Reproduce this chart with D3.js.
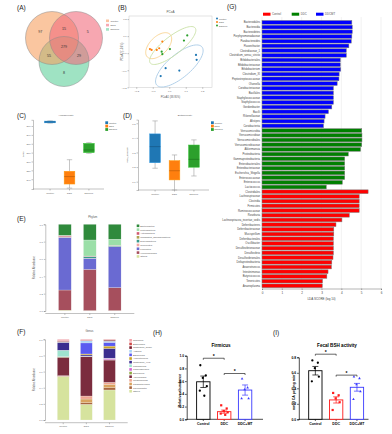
<!DOCTYPE html>
<html><head><meta charset="utf-8">
<script src="https://cdn.jsdelivr.net/npm/d3@7/dist/d3.min.js"></script>
<style>html,body{margin:0;padding:0;background:#fff;}svg{display:block;}</style>
</head><body>
<svg id="chart" width="392" height="434"></svg>
<script>
// ================= DATA =================
const groups = ["Control","DDC","DDCMT"];
const groupsMT = ["Control","DDC","DDC+MT"];

// (A) Venn diagram
const vennKeys = ["100","010","001","110","101","011","111"];
const vennCounts = [97,5,8,15,55,29,279];

// (B) PCoA
const pcoaGroup = ["DDC","DDC","DDC","DDC","DDC","DDCMT","DDCMT","DDCMT","DDCMT","DDCMT","Control","Control","Control","Control","Control"];
const pcoaX = [-0.117,-0.107,-0.076,-0.042,-0.061, 0.109,0.089,0.004,-0.046,-0.042, 0.162,0.166,0.061,-0.022,-0.052];
const pcoaY = [0.024,0.019,0.019,0.068,0.029, 0.104,0.074,0.024,0.009,-0.006, -0.010,-0.039,-0.102,-0.088,-0.134];
const pcoaTicks = [-0.2,-0.1,0,0.1,0.2];
const ellCx = [0.061,-0.064,0.021];
const ellCy = [-0.075,0.044,0.045];
const ellMajX = [0.137,0.0686,0.136];
const ellMajY = [0.112,0.0666,0.103];
const ellRatio = [0.39,0.56,0.32];

// (C) Alpha diversity box stats
const alphaMin = [303.3,230,269.2];
const alphaQ1  = [303.6,234.6,270];
const alphaMed = [304.6,243,273];
const alphaQ3  = [305.5,249,280.4];
const alphaMax = [305.8,262,281.2];
const alphaTicks = [240,250,260,270,280,290,300];

// (D) Beta diversity box stats
const betaMin = [0.192,0.043,0.139];
const betaQ1  = [0.230,0.112,0.199];
const betaMed = [0.340,0.175,0.253];
const betaQ3  = [0.427,0.244,0.351];
const betaMax = [0.516,0.283,0.386];
const betaTicks = [0.1,0.2,0.3,0.4,0.5];

// (E) Phylum (stack order bottom -> top)
const phylumNames = ["Others","Verrucomicrobia","Firmicutes","Tenericutes","Deferribacteres","Candidatus_Saccharibacteria","Actinobacteria","Proteobacteria","Bacteroidetes"];
const phylumControl = [0.010,0.232,0.608,0.003,0.002,0.002,0.012,0.005,0.126];
const phylumDDC     = [0.005,0.475,0.127,0.002,0.020,0.002,0.003,0.185,0.181];
const phylumDDCMT   = [0.005,0.265,0.472,0.002,0.010,0.002,0.002,0.070,0.172];
const fracTicks = [0,0.2,0.4,0.6,0.8,1.0];

// (F) Genus (stack order bottom -> top)
const genusNames = ["Others","Flavonifractor","Parabacteroides","Intestinimonas","Akkermansia","Barnesiella","Lachnospiracea","Lactobacillus","Clostridium_XlVa","Anaerotruncus","Escherichia","Alistipes","Clostridium_sensu","Bacteroides","Roseburia"];
const genusControl = [0.537,0.004,0.004,0.004,0.228,0.005,0.003,0.080,0.097,0.003,0.002,0.003,0.005,0.010,0.015];
const genusDDC     = [0.194,0.020,0.046,0.037,0.488,0.003,0.002,0.002,0.014,0.012,0.137,0.025,0.004,0.006,0.010];
const genusDDCMT   = [0.372,0.028,0.042,0.025,0.276,0.004,0.017,0.003,0.120,0.029,0.046,0.015,0.013,0.006,0.004];

// (G) LEfSe LDA scores
const ldaDDCMTNames = ["Bacteroidales","Bacteroidia","Bacteroidetes","Porphyromonadaceae","Parabacteroides","Flavonifractor","Clostridiaceae_1","Clostridium_sensu_stricto","Bifidobacteriales","Bifidobacteriaceae","Bifidobacterium","Clostridium_XI","Peptostreptococcaceae","Olsenella","Coriobacteriaceae","Bacillales","Staphylococcaceae","Staphylococcus","Gordonibacter","Bacilli","Rikenellaceae","Alistipes","Coriobacteriia"];
const ldaDDCMTScores = [4.53,4.55,4.55,4.53,4.50,4.38,4.25,4.25,3.95,3.95,3.97,3.89,3.88,3.79,3.60,3.60,3.60,3.60,3.52,3.35,3.18,3.13,3.10];
const ldaDDCNames = ["Verrucomicrobia","Verrucomicrobiae","Verrucomicrobiales","Verrucomicrobiaceae","Akkermansia","Proteobacteria","Gammaproteobacteria","Enterobacteriales","Enterobacteriaceae","Escherichia_Shigella","Enterococcaceae","Enterococcus","Lactococcus"];
const ldaDDCScores = [5.03,5.04,5.04,5.03,4.97,4.35,4.17,4.17,4.17,4.17,4.17,4.05,3.24];
const ldaControlNames = ["Clostridiales","Lachnospiraceae","Clostridia","Firmicutes","Ruminococcaceae","Roseburia","Lachnospiracea_incertae_sedis","Deferribacteres","Deferribacteraceae","Mucispirillum","Deferribacterales","Oscillibacter","Desulfovibrionaceae","Desulfovibrio","Desulfovibrionales","Deltaproteobacteria","Anaerotruncus","Intestinimonas","Butyricicoccus","Tenericutes","Anaeroplasma"];
const ldaControlScores = [5.35,4.90,4.90,4.90,4.90,4.40,4.03,3.73,3.62,3.62,3.60,3.60,3.60,3.60,3.58,3.52,3.50,3.33,3.27,3.05,3.04];
const ldaTicks = [0,1,2,3,4,5,6];

// (H) Firmicus
const firmMean = [0.59,0.12,0.46];
const firmSem  = [0.09,0.025,0.08];
const firmControl = [0.85,0.69,0.65,0.52,0.45,0.37];
const firmDDC     = [0.22,0.17,0.13,0.11,0.09,0.07];
const firmDDCMT   = [0.64,0.50,0.47,0.33,0.33];
const firmSig = [0.96,0.72];
const firmTicks = [0,0.2,0.4,0.6,0.8,1.0];

// (I) Fecal BSH activity
const bshMean = [0.627,0.25,0.413];
const bshSem  = [0.055,0.04,0.05];
const bshControl = [0.76,0.73,0.66,0.55,0.49];
const bshDDC     = [0.34,0.31,0.27,0.22,0.12];
const bshDDCMT   = [0.55,0.53,0.45,0.36,0.26];
const bshSig = [0.84,0.57];
const bshTicks = [0,0.2,0.4,0.6,0.8];

// ================= DRAW =================
const F = '"Liberation Sans", Arial, Helvetica, sans-serif';
const svg = d3.select("#chart");
svg.append("rect").attr("width",392).attr("height",434).attr("fill","#fff");

function T(g,x,y,s,fs,o={}){
  const t = g.append("text").attr("x",x).attr("y",y).text(s)
    .attr("font-size",fs).attr("font-family",F)
    .attr("fill",o.fill||"#333").attr("text-anchor",o.anchor||"start")
    .attr("font-weight",o.bold?"bold":"normal");
  if(o.rot) t.attr("transform",`rotate(${o.rot},${x},${y})`);
  return t;
}
function styleAxis(g,fs,color,sw,bold){
  g.selectAll("text").attr("font-size",fs).attr("font-family",F).attr("fill",color)
    .attr("font-weight",bold?"bold":"normal");
  g.selectAll("line,path").attr("stroke",color).attr("stroke-width",sw);
}

// Panel letters
[["(A)",17,9.5],["(B)",118,9.5],["(G)",227,9],["(C)",17,117.5],["(D)",123,117.5],["(E)",17,220.5],["(F)",17,333.5],["(H)",153,334.5],["(I)",273,334.5]]
  .forEach(([s,x,y])=>T(svg,x,y,s,6.5,{fill:"#222"}));

// ---------- (A) Venn ----------
(function(){
  const circ = [{cx:52,cy:38,r:26.5},{cx:76,cy:38,r:26.5},{cx:64,cy:61.5,r:25}];
  const cols = ["#f7a060","#f26d7d","#5fd19b"];
  const legCols = ["#fbc3a0","#f8a8b2","#a3e3c4"];
  [2,0,1].forEach(i=>{const c=circ[i]; svg.append("circle").attr("cx",c.cx).attr("cy",c.cy).attr("r",c.r)
      .attr("fill",cols[i]).attr("fill-opacity",0.6);});
  circ.forEach((c,i)=>svg.append("circle").attr("cx",c.cx).attr("cy",c.cy).attr("r",c.r)
      .attr("fill","none").attr("stroke","#8a8a8a").attr("stroke-width",0.5));
  const acc = {};
  for(let x=20;x<=105;x+=0.5) for(let y=8;y<=90;y+=0.5){
    const k = circ.map(c=>((x-c.cx)**2+(y-c.cy)**2<=c.r*c.r)?"1":"0").join("");
    if(k==="000") continue;
    (acc[k]=acc[k]||[0,0,0]); acc[k][0]+=x; acc[k][1]+=y; acc[k][2]++;
  }
  vennKeys.forEach((k,i)=>{
    const a = acc[k];
    T(svg,a[0]/a[2],a[1]/a[2]+1,String(vennCounts[i]),3.6,{anchor:"middle",fill:"#333"});
  });
  groups.forEach((g,i)=>{
    svg.append("rect").attr("x",106).attr("y",19.5+i*4.3).attr("width",3).attr("height",2.6).attr("fill",legCols[i]);
    T(svg,110.5,21.7+i*4.3,g,2.4,{fill:"#555"});
  });
})();

// ---------- (B) PCoA ----------
(function(){
  const gcol = {"Control":"#1f77b4","DDC":"#ff7f0e","DDCMT":"#2ca02c"};
  const ellCol = ["#a9cbe6","#f8d38e","#c9e1a6"];
  const x = d3.scaleLinear().domain([-0.244,0.259]).range([129,212]);
  const y = d3.scaleLinear().domain([-0.2,0.218]).range([87.3,16]);
  const g = svg.append("g");
  g.append("rect").attr("x",129).attr("y",16).attr("width",83).attr("height",71.3)
    .attr("fill","#fff").attr("stroke","#c8c8c8").attr("stroke-width",0.5);
  const ax = g.append("g").attr("transform","translate(0,87.3)")
    .call(d3.axisBottom(x).tickValues(pcoaTicks).tickSize(1.5).tickPadding(1).tickFormat(d3.format(".1f")));
  styleAxis(ax,2.4,"#666",0.4); ax.select(".domain").remove();
  const ay = g.append("g").attr("transform","translate(129,0)")
    .call(d3.axisLeft(y).tickValues(pcoaTicks).tickSize(1.5).tickPadding(1).tickFormat(d3.format(".1f")));
  styleAxis(ay,2.4,"#666",0.4); ay.select(".domain").remove();
  T(g,170.5,97.5,"PCoA1 (38.95%)",2.6,{anchor:"middle",fill:"#555"});
  T(g,123.5,51.6,"PCoA2 (15.6%)",2.6,{anchor:"middle",fill:"#555",rot:-90});
  T(g,170.5,12.5,"PCoA",3,{anchor:"middle",fill:"#555"});
  groups.forEach((gn,i)=>{
    const c = [x(ellCx[i]),y(ellCy[i])];
    const m = [x(ellCx[i]+ellMajX[i]),y(ellCy[i]+ellMajY[i])];
    const a = [m[0]-c[0],m[1]-c[1]];
    const b = [-a[1]*ellRatio[i],a[0]*ellRatio[i]];
    const pts = d3.range(0,72).map(k=>{const t=k/72*2*Math.PI;
      return [c[0]+Math.cos(t)*a[0]+Math.sin(t)*b[0], c[1]+Math.cos(t)*a[1]+Math.sin(t)*b[1]];});
    g.append("path").attr("d",d3.line().curve(d3.curveLinearClosed)(pts))
      .attr("fill","none").attr("stroke",ellCol[i]).attr("stroke-width",0.9);
  });
  pcoaX.forEach((v,i)=>g.append("circle").attr("cx",x(v)).attr("cy",y(pcoaY[i])).attr("r",1.1)
      .attr("fill",gcol[pcoaGroup[i]]));
  groups.forEach((gn,i)=>{
    g.append("circle").attr("cx",217).attr("cy",18.6+i*3.5).attr("r",1).attr("fill",gcol[gn]);
    T(g,219,19.5+i*3.5,gn,2.3,{fill:"#555"});
  });
})();

// ---------- box plots (C) & (D) ----------
function boxPanel(x0,x1,yDom,yR,ticks,fmt,mins,q1,med,q3,maxs,title,titleX,ylab,ylabX,legX){
  const cols = ["#1f77b4","#ff7f0e","#2ca02c"];
  const g = svg.append("g");
  const x = d3.scaleBand().domain(groups).range([x0,x1]).padding(0.45);
  const y = d3.scaleLinear().domain(yDom).range(yR);
  const ay = g.append("g").attr("transform",`translate(${x0-3},0)`)
    .call(d3.axisLeft(y).tickValues(ticks).tickSize(1.5).tickPadding(1).tickFormat(fmt));
  styleAxis(ay,2.4,"#666",0.4);
  const ax = g.append("g").attr("transform",`translate(0,${yR[0]})`)
    .call(d3.axisBottom(x).tickSize(1.5).tickPadding(2));
  styleAxis(ax,2.4,"#666",0.4);
  ax.select(".domain").attr("d",`M${x0-3},0H${x1+1}`);
  groups.forEach((gn,i)=>{
    const cx = x(gn)+x.bandwidth()/2, bw = x.bandwidth();
    const wc = "#a0a0a0";
    g.append("line").attr("x1",cx).attr("x2",cx).attr("y1",y(maxs[i])).attr("y2",y(q3[i])).attr("stroke",wc).attr("stroke-width",0.6);
    g.append("line").attr("x1",cx).attr("x2",cx).attr("y1",y(q1[i])).attr("y2",y(mins[i])).attr("stroke",wc).attr("stroke-width",0.6);
    [maxs[i],mins[i]].forEach(v=>g.append("line").attr("x1",cx-bw*0.25).attr("x2",cx+bw*0.25)
      .attr("y1",y(v)).attr("y2",y(v)).attr("stroke",wc).attr("stroke-width",0.6));
    g.append("rect").attr("x",x(gn)).attr("width",bw).attr("y",y(q3[i])).attr("height",Math.max(0.8,y(q1[i])-y(q3[i])))
      .attr("fill",cols[i]).attr("stroke",d3.color(cols[i]).brighter(0.6)).attr("stroke-width",0.5);
    g.append("line").attr("x1",x(gn)).attr("x2",x(gn)+bw).attr("y1",y(med[i])).attr("y2",y(med[i]))
      .attr("stroke",d3.color(cols[i]).darker(1)).attr("stroke-width",0.6);
  });
  T(g,titleX,115.5,title,2.5,{anchor:"middle",fill:"#555"});
  T(g,ylabX,(yR[0]+yR[1])/2,ylab,2.5,{anchor:"middle",fill:"#555",rot:-90});
  groups.forEach((gn,i)=>{
    g.append("rect").attr("x",legX).attr("y",121.3+i*3.4).attr("width",2.8).attr("height",2.8).attr("fill",cols[i]);
    T(g,legX+3.6,123.5+i*3.4,gn,2.3,{fill:"#555"});
  });
}
boxPanel(36,103,[229,307],[189,119.8],alphaTicks,d3.format("d"),alphaMin,alphaQ1,alphaMed,alphaQ3,alphaMax,"Alphadiversity",66,"Sobs",24,105.3);
boxPanel(141,208,[0.043,0.525],[190,119.6],betaTicks,d3.format(".1f"),betaMin,betaQ1,betaMed,betaQ3,betaMax,"Betadiversity",185,"beta_diversity",128,211);

// ---------- stacked bars (E) & (F) ----------
function stackPanel(names,rowsVals,colors,x0,x1,y0,y1,axisY,title,titleY,legX,legY0,legStep,legOrder){
  const g = svg.append("g");
  const rows = groups.map((gn,i)=>{const o={group:gn}; names.forEach((n,j)=>o[n]=rowsVals[i][j]); return o;});
  const series = d3.stack().keys(names)(rows);
  const x = d3.scaleBand().domain(groups).range([x0,x1]).padding(0.49);
  const y = d3.scaleLinear().domain([0,1]).range([y0,y1]);
  const cmap = {}; names.forEach((n,j)=>cmap[n]=colors[j]);
  series.forEach(s=>{
    g.selectAll(null).data(s).enter().append("rect")
      .attr("x",d=>x(d.data.group)).attr("width",x.bandwidth())
      .attr("y",d=>y(d[1])).attr("height",d=>Math.max(0,y(d[0])-y(d[1])))
      .attr("fill",cmap[s.key]).attr("stroke","#f2f2f2").attr("stroke-width",0.25);
  });
  const ay = g.append("g").attr("transform",`translate(${x0-1},0)`)
    .call(d3.axisLeft(y).tickValues(fracTicks).tickSize(1.5).tickPadding(1).tickFormat(d3.format(".1f")));
  styleAxis(ay,2.4,"#666",0.4);
  const ax = g.append("g").attr("transform",`translate(0,${axisY})`)
    .call(d3.axisBottom(x).tickSize(1.5).tickPadding(1.5));
  styleAxis(ax,2.4,"#666",0.4);
  ax.select(".domain").attr("d",`M${x0-1},0H${x1+1}`);
  T(g,(x0+x1)/2+3,titleY,title,2.7,{anchor:"middle",fill:"#555"});
  T(g,35,(y0+y1)/2,"Relative Abundance",2.6,{anchor:"middle",fill:"#555",rot:-90});
  legOrder.forEach((n,i)=>{
    g.append("rect").attr("x",legX).attr("y",legY0+i*legStep).attr("width",2.6).attr("height",2.6).attr("fill",cmap[n]);
    T(g,legX+3.6,legY0+i*legStep+2.2,n,2.3,{fill:"#555"});
  });
}
const phylumColors = ["#d7e29c","#a64f5d","#6a6ad2","#f3a7a2","#389a8a","#b0a352","#d05a70","#9bdfa8","#2f8a3c"];
stackPanel(phylumNames,[phylumControl,phylumDDC,phylumDDCMT],phylumColors,46.3,133.3,311,224.3,313.5,"Phylum",217.5,136.7,224.5,3.83,phylumNames.slice().reverse());
const genusColors = ["#d6e39e","#a8663f","#d9a25e","#f0a590","#7b2c3e","#8fa843","#d55fd5","#9fe3cf","#3b2d8f","#c9a227","#5a5af0","#a9d3f5","#7a1f2e","#d04a4a","#f4a0a8"];
stackPanel(genusNames,[genusControl,genusDDC,genusDDCMT],genusColors,46,126.7,420,339.3,422.7,"Genus",331.5,129.3,339,3.64,genusNames.slice().reverse());

// ---------- bar + dots (H) & (I) ----------
function dotBarPanel(x0,x1,yDom,yR,ticks,means,sems,pts,sig,title,titleX,ylab,ylabX,axisEnd){
  const cols = ["#000000","#ff1a1a","#3a3aff"];
  const g = svg.append("g");
  const x = d3.scaleBand().domain(groupsMT).range([x0,x1]).padding(0.36);
  const y = d3.scaleLinear().domain(yDom).range(yR);
  const ay = g.append("g").attr("transform",`translate(${x0-2.4},0)`)
    .call(d3.axisLeft(y).tickValues(ticks).tickSize(1.6).tickPadding(1).tickFormat(d3.format(".1f")));
  styleAxis(ay,3.4,"#000",0.7,true);
  const ax = g.append("g").attr("transform",`translate(0,${yR[0]})`)
    .call(d3.axisBottom(x).tickSize(1.6).tickPadding(1.5));
  styleAxis(ax,3.5,"#000",0.7,true);
  ax.select(".domain").attr("d",`M${x0-2.4},0H${axisEnd}`);
  groupsMT.forEach((gn,i)=>{
    const bx = x(gn), bw = x.bandwidth(), cx = bx+bw/2;
    g.append("rect").attr("x",bx).attr("width",bw).attr("y",y(means[i])).attr("height",y(0)-y(means[i]))
      .attr("fill","#fff").attr("stroke",cols[i]).attr("stroke-width",0.9);
    const lo=y(means[i]-sems[i]), hi=y(means[i]+sems[i]);
    g.append("line").attr("x1",cx).attr("x2",cx).attr("y1",lo).attr("y2",hi).attr("stroke",cols[i]).attr("stroke-width",0.7);
    [lo,hi].forEach(v=>g.append("line").attr("x1",cx-3).attr("x2",cx+3).attr("y1",v).attr("y2",v).attr("stroke",cols[i]).attr("stroke-width",0.7));
    pts[i].forEach((v,k)=>{
      const off = [-3,2.5,-0.5,3.5,-3.5,1][k%6];
      const px = cx+off, py = y(v);
      if(i===0) g.append("circle").attr("cx",px).attr("cy",py).attr("r",1.15).attr("fill",cols[i]);
      else if(i===1) g.append("rect").attr("x",px-1.1).attr("y",py-1.1).attr("width",2.2).attr("height",2.2).attr("fill",cols[i]);
      else g.append("path").attr("d",`M${px},${py-1.4}L${px+1.3},${py+0.9}L${px-1.3},${py+0.9}Z`).attr("fill",cols[i]);
    });
  });
  [[0,1],[1,2]].forEach(([a,b],k)=>{
    const xa = x(groupsMT[a])+x.bandwidth()/2, xb = x(groupsMT[b])+x.bandwidth()/2, yy = y(sig[k]);
    g.append("path").attr("d",`M${xa},${yy+1.5}V${yy}H${xb}V${yy+1.5}`).attr("fill","none").attr("stroke","#000").attr("stroke-width",0.6);
    T(g,(xa+xb)/2,yy-0.3,"*",5,{anchor:"middle",fill:"#000",bold:true});
  });
  T(g,titleX,347.3,title,4.6,{anchor:"middle",fill:"#000",bold:true});
  T(g,ylabX,(yR[0]+yR[1])/2+3,ylab,3.6,{anchor:"middle",fill:"#000",bold:true,rot:-90});
}
dotBarPanel(189.1,259.3,[0,1],[419.3,355.7],firmTicks,firmMean,firmSem,[firmControl,firmDDC,firmDDCMT],firmSig,"Firmicus",221,"Relative abundance",181,263);
dotBarPanel(301.2,371.1,[0,0.8],[419.3,357.3],bshTicks,bshMean,bshSem,[bshControl,bshDDC,bshDDCMT],bshSig,"Fecal BSH activity",337,"nmol CA per mg min\u207B\u00B9",295.5,368.5);

// ---------- (G) LEfSe ----------
(function(){
  const g = svg.append("g");
  const names = ldaDDCMTNames.concat(ldaDDCNames, ldaControlNames);
  const scores = ldaDDCMTScores.concat(ldaDDCScores, ldaControlScores);
  const grp = ldaDDCMTNames.map(()=>2).concat(ldaDDCNames.map(()=>1), ldaControlNames.map(()=>0));
  const cols = ["#ff0000","#008000","#0000ff"];
  const x = d3.scaleLinear().domain([0,6]).range([262,381]);
  const y = d3.scaleBand().domain(d3.range(names.length)).range([20.5,287.7]).paddingInner(0.2);
  ldaTicks.forEach(t=>g.append("line").attr("x1",x(t)).attr("x2",x(t)).attr("y1",17).attr("y2",288.5)
    .attr("stroke","#e2e2e2").attr("stroke-width",0.5));
  names.forEach((n,i)=>{
    g.append("rect").attr("x",x(0)).attr("y",y(i)).attr("width",x(scores[i])-x(0)).attr("height",y.bandwidth())
      .attr("fill",cols[grp[i]]).attr("stroke","#7a7a7a").attr("stroke-width",0.5);
    T(g,260,y(i)+y.bandwidth()/2+1,n,2.7,{anchor:"end",fill:"#444"});
  });
  const ax = g.append("g").attr("transform","translate(0,288.5)")
    .call(d3.axisBottom(x).tickValues(ldaTicks).tickSize(1.5).tickPadding(1.5).tickFormat(d3.format("d")));
  styleAxis(ax,3,"#444",0.4);
  T(g,321.5,300,"LDA SCORE (log 10)",3,{anchor:"middle",fill:"#444"});
  const legN = ["Control","DDC","DDCMT"], legX=[263,291.7,316];
  legN.forEach((n,i)=>{
    g.append("rect").attr("x",legX[i]).attr("y",12.7).attr("width",7.5).attr("height",3).attr("fill",cols[i]);
    T(g,legX[i]+9,15.3,n,2.8,{fill:"#555"});
  });
})();
</script>
</body></html>
